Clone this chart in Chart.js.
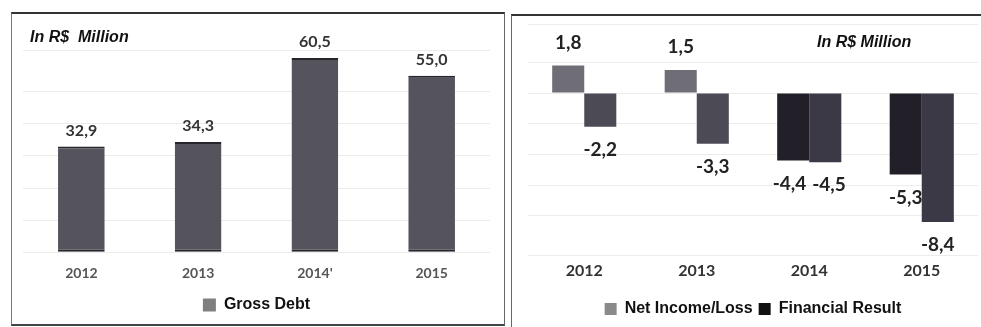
<!DOCTYPE html>
<html>
<head>
<meta charset="utf-8">
<script src="https://cdn.jsdelivr.net/npm/chart.js@4.4.1/dist/chart.umd.min.js"></script>
<style>
  html, body { margin: 0; padding: 0; background: #fff; overflow: hidden; }
  body { width: 981px; height: 327px; position: relative; }
  .panel { position: absolute; box-sizing: border-box; background: #fff; }
  #leftPanel { left: 11px; top: 12px; width: 494px; height: 314px;
    border-top: 2px solid #333; border-left: 1px solid #777; border-right: 1px solid #666; border-bottom: 2px solid #444; }
  #rightPanel { left: 511px; top: 14px; width: 480px; height: 320px;
    border-top: 2px solid #333; border-left: 1px solid #666; }
  canvas { display: block; }
</style>
</head>
<body>
<div class="panel" id="leftPanel"><canvas id="debtChart" width="491" height="310"></canvas></div>
<div class="panel" id="rightPanel"><canvas id="resultChart" width="479" height="318"></canvas></div>
<script>
// values (R$ million)
const debtYears = ['2012', '2013', '2014\'', '2015'];
const grossDebt = [32.9, 34.3, 60.5, 55.0];

const resultYears = ['2012', '2013', '2014', '2015'];
const netIncome = [1.8, 1.5, -4.4, -5.3];
const financialResult = [-2.2, -3.3, -4.5, -8.4];

const calibri = "Lato, 'Open Sans', sans-serif";
const arial = "'Liberation Sans', Arial, sans-serif";

// writes the value above (or below, for negatives) each bar, comma decimals
// labels of the same year that would touch get pushed apart a little
const valueLabels = {
    id: 'valueLabels',
    afterDatasetsDraw(chart, args, opts) {
        const ctx = chart.ctx;
        ctx.save();
        ctx.font = opts.font;
        ctx.fillStyle = opts.color;
        ctx.textAlign = 'center';
        ctx.textBaseline = 'middle';
        const n = chart.data.labels.length;
        for (let j = 0; j < n; j++) {
            const items = [];
            chart.data.datasets.forEach((ds, i) => {
                const bar = chart.getDatasetMeta(i).data[j];
                const v = ds.data[j];
                const text = v.toFixed(1).replace('.', ',');
                items.push({
                    text: text,
                    x: bar.x,
                    y: v >= 0 ? bar.y - opts.offset : bar.y + opts.offset,
                    w: ctx.measureText(text).width
                });
            });
            for (let k = 1; k < items.length; k++) {
                const a = items[k - 1], b = items[k];
                const overlap = (a.x + a.w / 2 + 6) - (b.x - b.w / 2);
                if (Math.abs(a.y - b.y) < 14 && overlap > 0) {
                    a.x -= overlap / 2;
                    b.x += overlap / 2;
                }
            }
            items.forEach(it => ctx.fillText(it.text, it.x, it.y));
        }
        ctx.restore();
    }
};

// the "In R$ Million" note in the corner
const cornerNote = {
    id: 'cornerNote',
    afterDraw(chart, args, opts) {
        const ctx = chart.ctx;
        ctx.save();
        ctx.font = opts.font;
        ctx.fillStyle = '#111';
        ctx.textAlign = 'left';
        ctx.textBaseline = 'middle';
        ctx.fillText(opts.text, opts.x, opts.y);
        ctx.restore();
    }
};

function legendLabels(colors) {
    return (chart) => {
        const items = Chart.defaults.plugins.legend.labels.generateLabels(chart);
        items.forEach((it, i) => {
            it.fillStyle = colors[i];
            it.strokeStyle = colors[i];
            it.lineWidth = 0;
        });
        return items;
    };
}

new Chart(document.getElementById('debtChart'), {
    type: 'bar',
    data: {
        labels: debtYears,
        datasets: [{
            label: 'Gross Debt',
            data: grossDebt,
            backgroundColor: '#55545d',
            borderColor: '#26252b',
            borderWidth: { top: 2, bottom: 2, left: 0, right: 0 },
            borderSkipped: false,
            barPercentage: 0.8,
            categoryPercentage: 0.5
        }]
    },
    plugins: [valueLabels, cornerNote],
    options: {
        responsive: false,
        animation: false,
        layout: { padding: { top: 36, left: 11, right: 13, bottom: 1 } },
        scales: {
            x: {
                grid: { display: false, drawTicks: false },
                border: { display: false },
                ticks: { color: '#555', font: { family: calibri, size: 14, weight: 'bold' }, padding: 13 }
            },
            y: {
                min: 0,
                max: 63,
                grid: { color: '#ececec', drawTicks: false },
                border: { display: false },
                ticks: { display: false, stepSize: 10 }
            }
        },
        plugins: {
            legend: {
                position: 'bottom',
                labels: {
                    boxWidth: 13, boxHeight: 13, color: '#111', padding: 2,
                    font: { family: arial, size: 16, weight: 'bold' },
                    generateLabels: legendLabels(['#7f7f7f'])
                }
            },
            tooltip: { enabled: false },
            valueLabels: { font: 'bold 16px ' + calibri, color: '#333', offset: 16 },
            cornerNote: { text: 'In R$  Million', font: 'italic bold 16px ' + arial, x: 18, y: 24 }
        }
    }
});

new Chart(document.getElementById('resultChart'), {
    type: 'bar',
    data: {
        labels: resultYears,
        datasets: [
            {
                label: 'Net Income/Loss',
                data: netIncome,
                backgroundColor: ['#6f6e77', '#6f6e77', '#221f28', '#221f28'],
                barPercentage: 1,
                categoryPercentage: 0.57
            },
            {
                label: 'Financial Result',
                data: financialResult,
                backgroundColor: ['#4c4b55', '#4c4b55', '#3b3945', '#3b3945'],
                barPercentage: 1,
                categoryPercentage: 0.57
            }
        ]
    },
    plugins: [valueLabels, cornerNote],
    options: {
        responsive: false,
        animation: false,
        layout: { padding: { top: 8, left: 16, right: 13, bottom: 7 } },
        scales: {
            x: {
                grid: { display: false, drawTicks: false },
                border: { display: false },
                ticks: { color: '#333', font: { family: calibri, size: 16, weight: 'bold' }, padding: 5 },
                afterFit: (scale) => { scale.height += 10; }
            },
            y: {
                min: -10.6,
                max: 4.5,
                grid: { color: '#ececec', drawTicks: false },
                border: { display: false },
                ticks: { display: false, stepSize: 2 }
            }
        },
        plugins: {
            legend: {
                position: 'bottom',
                labels: {
                    boxWidth: 12, boxHeight: 12, color: '#111', padding: 6,
                    font: { family: arial, size: 16, weight: 'bold' },
                    generateLabels: legendLabels(['#8a8a8a', '#111'])
                }
            },
            tooltip: { enabled: false },
            valueLabels: { font: 'bold 19px ' + calibri, color: '#222', offset: 23 },
            cornerNote: { text: 'In R$ Million', font: 'italic bold 16px ' + arial, x: 305, y: 27 }
        }
    }
});
</script>
</body>
</html>
